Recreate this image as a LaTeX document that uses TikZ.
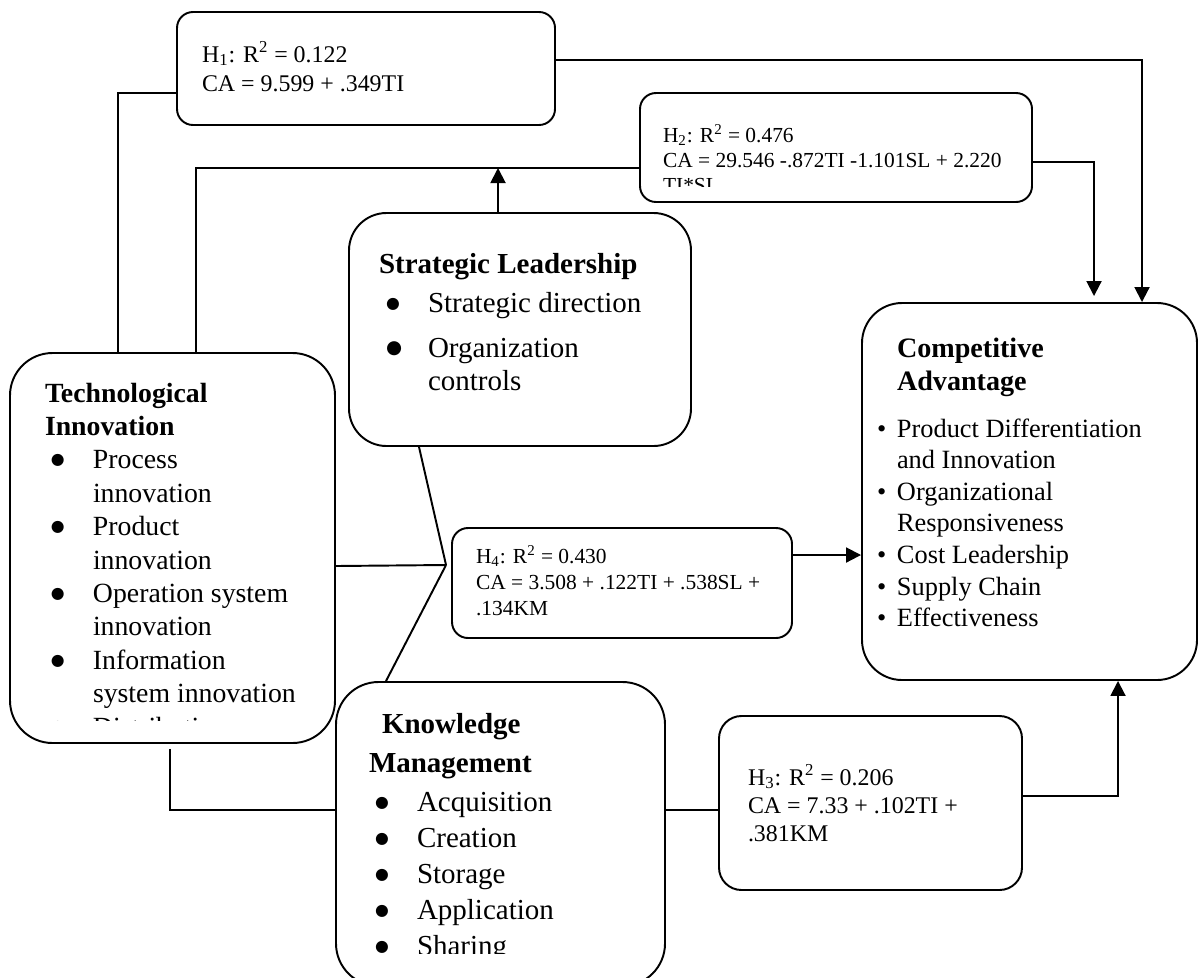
\documentclass[tikz,border=0pt]{standalone}
\usepackage{fontspec}
\setmainfont{Liberation Serif}
\newfontfamily\dotfont{DejaVu Sans}
\usetikzlibrary{arrows.meta, calc}
\newcommand{\topstrut}{\rule{0pt}{14pt}}
\newcommand{\bigdot}[1]{\makebox[#1][l]{\raisebox{2.3pt}{\dotfont\fontsize{9}{9}\selectfont ●}}}
\newcommand{\smalldot}{\makebox[0.4cm][l]{\textbullet}}

\begin{document}
\begin{tikzpicture}[
        line width=1.1pt,
        every node/.style={inner sep=0pt},
        card/.style={draw,rounded corners=0.85cm},
        hyp/.style={draw,rounded corners=0.32cm},
        txt/.style={anchor=north west,align=left,font=\fontsize{15.8}{19}\selectfont},
        htxt/.style={anchor=north west,align=left,font=\fontsize{13.6}{16.5}\selectfont},
        stxt/.style={anchor=north west,align=left,font=\fontsize{12.2}{14.2}\selectfont},
        arr/.style={-{Triangle[width=0.3cm,length=0.3cm]}}]
  \useasboundingbox (0,0) rectangle (24,-19.54);

  \node[hyp,minimum width=7.56cm,minimum height=2.26cm] (H1) at (7.32,-1.37) {};
  \node[hyp,minimum width=7.84cm,minimum height=2.18cm] (H2) at (16.72,-2.95) {};
  \node[card,rounded corners=0.75cm,minimum width=6.84cm,minimum height=4.66cm] (SL) at (10.4,-6.59) {};
  \node[card,minimum width=6.5cm,minimum height=7.8cm] (TI) at (3.45,-10.96) {};
  \node[hyp,minimum width=6.8cm,minimum height=2.2cm] (H4) at (12.44,-11.66) {};
  \node[card,rounded corners=0.8cm,minimum width=6.7cm,minimum height=7.54cm] (CA) at (20.59,-9.83) {};
  \node[card,minimum width=6.58cm,minimum height=6.08cm] (KM) at (10.01,-16.68) {};
  \node[hyp,rounded corners=0.45cm,minimum width=6.06cm,minimum height=3.48cm] (H3) at (17.41,-16.06) {};

  \node[htxt] (H1txt) at ([shift={(0.5,-0.51)}]H1.north west)
    {\topstrut H\textsubscript{1}: R\textsuperscript{2} = 0.122\\
     CA = 9.599 + .349TI};
  \begin{scope}
    \clip (H2.north west) rectangle ([yshift=0.32cm]H2.south east);
    \node[stxt] (H2txt) at ([shift={(0.46,-0.49)}]H2.north west)
      {\topstrut H\textsubscript{2}: R\textsuperscript{2} = 0.476\\
       CA = 29.546 -.872TI -1.101SL + 2.220\\
       TI*SL};
  \end{scope}
  \node[txt,font=\fontsize{16.5}{18.8}\selectfont] (SLtxt) at ([shift={(0.6,-0.71)}]SL.north west)
    {\topstrut{\bfseries Strategic Leadership}\\[3.4pt]
     \hspace*{0.14cm}\bigdot{0.84cm}Strategic direction\\[6.8pt]
     \hspace*{0.14cm}\makebox[0.84cm][l]{\raisebox{2pt}{\dotfont\fontsize{10.5}{10.5}\selectfont ●}}Organization\\
     \hspace*{0.98cm}controls};
  \begin{scope}
    \clip (TI.north west) rectangle ([yshift=0.46cm]TI.south east);
    \node[txt] (TItxt) at ([shift={(0.7,-0.49)}]TI.north west)
      {\topstrut{\bfseries Technological}\\
       {\bfseries Innovation}\\
       \hspace*{0.12cm}\bigdot{0.84cm}Process\\
       \hspace*{0.96cm}innovation\\
       \hspace*{0.12cm}\bigdot{0.84cm}Product\\
       \hspace*{0.96cm}innovation\\
       \hspace*{0.12cm}\bigdot{0.84cm}Operation system\\
       \hspace*{0.96cm}innovation\\
       \hspace*{0.12cm}\bigdot{0.84cm}Information\\
       \hspace*{0.96cm}system innovation\\
       \hspace*{0.12cm}\bigdot{0.84cm}Distribution};
  \end{scope}
  \node[stxt,font=\fontsize{12.2}{14.8}\selectfont] (H4txt) at ([shift={(0.48,-0.21)}]H4.north west)
    {\topstrut H\textsubscript{4}: R\textsuperscript{2} = 0.430\\
     CA = 3.508 + .122TI + .538SL +\\
     .134KM};
  \node[txt,font=\fontsize{15}{18}\selectfont] (CAtxt) at ([shift={(0.3,-0.59)}]CA.north west)
    {\topstrut\hspace*{0.4cm}{\fontsize{16}{18}\selectfont\bfseries Competitive}\\[0.8pt]
     \hspace*{0.4cm}{\fontsize{16}{18}\selectfont\bfseries Advantage}\\[8.7pt]
     \smalldot Product Differentiation\\
     \hspace*{0.4cm}and Innovation\\
     \smalldot Organizational\\
     \hspace*{0.4cm}Responsiveness\\
     \smalldot Cost Leadership\\
     \smalldot Supply Chain\\
     \smalldot Effectiveness};
  \begin{scope}
    \clip (KM.north west) rectangle ([yshift=0.66cm]KM.south east);
    \node[txt,font=\fontsize{16.5}{20.5}\selectfont] (KMtxt) at ([shift={(0.66,-0.53)}]KM.north west)
      {\topstrut\hspace*{0.26cm}{\bfseries Knowledge}\\[1.7pt]
       {\bfseries Management}\\[1.7pt]
       \hspace*{0.12cm}\bigdot{0.84cm}Acquisition\\
       \hspace*{0.12cm}\bigdot{0.84cm}Creation\\
       \hspace*{0.12cm}\bigdot{0.84cm}Storage\\
       \hspace*{0.12cm}\bigdot{0.84cm}Application\\
       \hspace*{0.12cm}\bigdot{0.84cm}Sharing};
  \end{scope}
  \node[htxt,font=\fontsize{13.6}{15.9}\selectfont] (H3txt) at ([shift={(0.58,-0.89)}]H3.north west)
    {\topstrut H\textsubscript{3}: R\textsuperscript{2} = 0.206\\
     CA = 7.33 + .102TI +\\
     .381KM};

  \coordinate (j2) at ([yshift=-0.41cm]H2.west);
  \coordinate (j4) at ([shift={(-0.1,0.36)}]H4.west);

  \draw ([xshift=-1.09cm]TI.north) |- ([yshift=-0.49cm]H1.west);
  \draw[arr] ([yshift=0.17cm]H1.east) -| ([xshift=2.25cm]CA.north);
  \draw ([xshift=0.47cm]TI.north) |- (j2);
  \draw[arr] ([xshift=-0.44cm]SL.north) -- ([xshift=-0.44cm]SL.north |- j2);
  \draw[arr] ([yshift=-0.29cm]H2.east) -| ([shift={(1.29cm,0.12cm)}]CA.north);
  \draw ([yshift=-0.36cm]TI.east) -- (j4);
  \draw ([xshift=-2.02cm]SL.south) -- (j4);
  \draw ([xshift=-2.29cm]KM.north) -- (j4);
  \draw[arr] ([yshift=0.56cm]H4.east) -- ([yshift=0.56cm]H4.east -| CA.west);
  \draw ([shift={(-0.05cm,-0.1cm)}]TI.south) |- ([yshift=0.48cm]KM.west);
  \draw ([yshift=0.48cm]KM.east) -- ([yshift=0.48cm]KM.east -| H3.west);
  \draw[arr] ([yshift=0.14cm]H3.east) -| ([xshift=1.77cm]CA.south);
\end{tikzpicture}
\end{document}
